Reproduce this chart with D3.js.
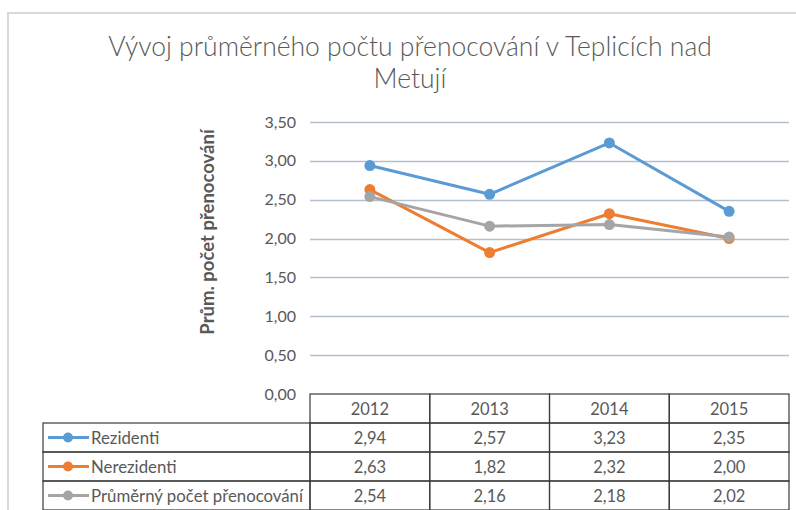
<!DOCTYPE html>
<html>
<head>
<meta charset="utf-8">
<script src="https://cdn.jsdelivr.net/npm/d3@7"></script>
<style>
  body { margin: 0; background: #fff; }
  svg text { font-family: Lato, "Open Sans", sans-serif; fill: #595959; }
</style>
</head>
<body>
<div id="chart"></div>
<script>
// chart data
let years = ["2012", "2013", "2014", "2015"];
let seriesNames = ["Rezidenti", "Nerezidenti", "Průměrný počet přenocování"];
let rezidenti = [2.94, 2.57, 3.23, 2.35];
let nerezidenti = [2.63, 1.82, 2.32, 2.00];
let prumer = [2.54, 2.16, 2.18, 2.02];
let yTicks = [0, 0.5, 1, 1.5, 2, 2.5, 3, 3.5];
let colors = ["#5B9BD5", "#ED7D31", "#A5A5A5"];

let seriesValues = [rezidenti, nerezidenti, prumer];

let width = 796, height = 510;
let margin = {top: 122, right: 7, bottom: 116, left: 310};
let innerW = width - margin.left - margin.right;
let innerH = height - margin.top - margin.bottom;

let svg = d3.select("#chart").append("svg")
    .attr("width", width)
    .attr("height", height);

// outer chart frame
svg.append("rect")
    .attr("x", 8).attr("y", 13)
    .attr("width", 820).attr("height", 520)
    .attr("fill", "none")
    .attr("stroke", "#d9d9d9")
    .attr("stroke-width", 2);

// title
let title = svg.append("text")
    .attr("text-anchor", "middle")
    .style("font-size", "26.5px")
    .style("font-weight", 300);
title.append("tspan").attr("x", 410).attr("y", 56).text("Vývoj průměrného počtu přenocování v Teplicích nad");
title.append("tspan").attr("x", 410).attr("y", 88).text("Metují");

let g = svg.append("g")
    .attr("transform", "translate(" + margin.left + "," + margin.top + ")");

let x = d3.scaleBand().domain(years).range([0, innerW]);
let y = d3.scaleLinear().domain([0, 3.5]).range([innerH, 0]);

// gridlines
g.append("g")
    .selectAll("line")
    .data(yTicks.filter(d => d > 0))
    .enter().append("line")
    .attr("x1", 0).attr("x2", innerW)
    .attr("y1", d => Math.round(y(d)) + 0.5)
    .attr("y2", d => Math.round(y(d)) + 0.5)
    .attr("stroke", "#b3bfd1")
    .attr("stroke-width", 1.5);

// y axis
let fmt = d => d3.format(".2f")(d).replace(".", ",");
let yAxis = g.append("g")
    .attr("class", "axis y-axis")
    .call(d3.axisLeft(y).tickValues(yTicks).tickFormat(fmt).tickSize(0).tickPadding(14));
yAxis.select(".domain").remove();
yAxis.selectAll("text").style("font-size", "16px").attr("fill", "#595959");

// y axis label
svg.append("text")
    .attr("transform", "translate(214,232) rotate(-90)")
    .attr("text-anchor", "middle")
    .style("font-size", "18.5px")
    .style("font-weight", "bold")
    .text("Prům. počet přenocování");

// lines and markers
let line = d3.line()
    .x((d, i) => x(years[i]) + x.bandwidth() / 2)
    .y(d => y(d));

seriesValues.forEach((vals, s) => {
    g.append("path")
        .datum(vals)
        .attr("fill", "none")
        .attr("stroke", colors[s])
        .attr("stroke-width", 3)
        .attr("stroke-linejoin", "round")
        .attr("d", line);
    g.selectAll(".m" + s)
        .data(vals)
        .enter().append("circle")
        .attr("class", "m" + s)
        .attr("cx", (d, i) => x(years[i]) + x.bandwidth() / 2)
        .attr("cy", d => y(d))
        .attr("r", 5.5)
        .attr("fill", colors[s]);
});

// data table
let rowH = 29;
let tableTop = margin.top + innerH;
let legendLeft = 43;
let tbl = svg.append("g");

// header row (years)
years.forEach(yr => {
    tbl.append("rect")
        .attr("x", margin.left + x(yr))
        .attr("y", tableTop)
        .attr("width", x.bandwidth())
        .attr("height", rowH)
        .attr("fill", "none")
        .attr("stroke", "#3a3a3a")
        .attr("stroke-width", 1.2);
    tbl.append("text")
        .attr("x", margin.left + x(yr) + x.bandwidth() / 2)
        .attr("y", tableTop + rowH / 2 + 6)
        .attr("text-anchor", "middle")
        .style("font-size", "16.5px")
        .text(yr);
});

seriesNames.forEach((name, s) => {
    let ry = tableTop + rowH * (s + 1);
    // legend cell
    tbl.append("rect")
        .attr("x", legendLeft).attr("y", ry)
        .attr("width", margin.left - legendLeft).attr("height", rowH)
        .attr("fill", "none").attr("stroke", "#3a3a3a").attr("stroke-width", 1.2);
    tbl.append("line")
        .attr("x1", legendLeft + 5).attr("x2", legendLeft + 46)
        .attr("y1", ry + rowH / 2).attr("y2", ry + rowH / 2)
        .attr("stroke", colors[s]).attr("stroke-width", 3);
    tbl.append("circle")
        .attr("cx", legendLeft + 25).attr("cy", ry + rowH / 2)
        .attr("r", 5).attr("fill", colors[s]);
    tbl.append("text")
        .attr("x", legendLeft + 48)
        .attr("y", ry + rowH / 2 + 6)
        .style("font-size", "16.8px")
        .text(name);
    // value cells
    years.forEach((yr, i) => {
        tbl.append("rect")
            .attr("x", margin.left + x(yr)).attr("y", ry)
            .attr("width", x.bandwidth()).attr("height", rowH)
            .attr("fill", "none").attr("stroke", "#3a3a3a").attr("stroke-width", 1.2);
        tbl.append("text")
            .attr("x", margin.left + x(yr) + x.bandwidth() / 2)
            .attr("y", ry + rowH / 2 + 6)
            .attr("text-anchor", "middle")
            .style("font-size", "16.5px")
            .text(fmt(seriesValues[s][i]));
    });
});
</script>
</body>
</html>
